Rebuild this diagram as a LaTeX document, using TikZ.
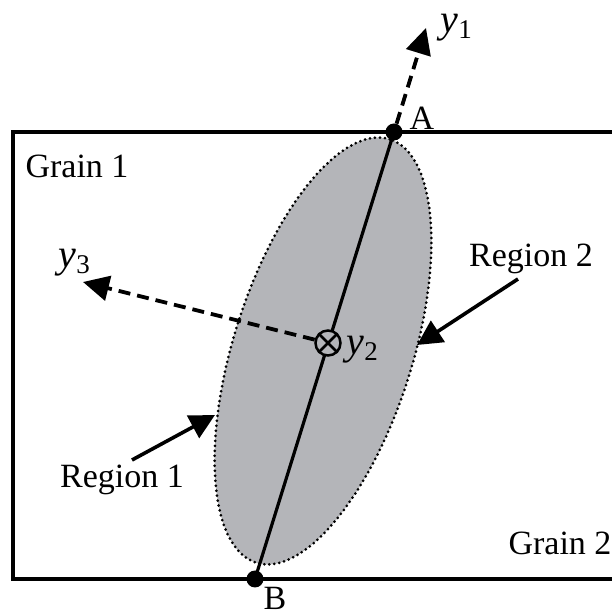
\documentclass[tikz,border=0pt]{standalone}
\usepackage{fontspec}
\setmainfont{Liberation Serif}
\usetikzlibrary{arrows.meta}
\definecolor{ellgray}{RGB}{180,181,185}
\newcommand\ysub[1]{{\fontsize{40}{42}\selectfont\textit{y}}\kern0.5pt\raisebox{-6pt}{\fontsize{27}{28}\selectfont #1}}
\begin{document}
\begin{tikzpicture}[x=1pt,y=1pt,
  lbl/.style={inner sep=0pt, font=\fontsize{34}{36}\selectfont},
  dotn/.style={circle, fill=black, inner sep=0pt, minimum size=17pt},
  dashline/.style={line width=3.8pt, dash pattern=on 12pt off 7pt},
  bigtip/.style={-{Triangle[length=26pt,width=25pt]}},
  solidarrow/.style={line width=3.6pt, -{Triangle[length=25pt,width=25pt]}}]
\useasboundingbox (0,0) rectangle (612,616);
% grain boundary box
\begin{scope}
\clip (0,0) rectangle (612,616);
\draw[line width=3.4pt] (650,484) -- (13,484) -- (13,37) -- (650,37);
\end{scope}
% ellipse
\path[fill=ellgray, rotate around={72.5:(323,265)}] (323,265) ellipse [x radius=222pt, y radius=89.5pt];
\draw[line width=3pt, line cap=round, dash pattern=on 0pt off 5pt, rotate around={72.5:(323,265)}] (323,265) ellipse [x radius=222pt, y radius=89.5pt];
% points
\coordinate (Apt) at (394,484);
\coordinate (Bpt) at (255,37);
\coordinate (T1) at (426,588);
\coordinate (T3) at (83,334);
\coordinate (R2s) at (518,337);
\coordinate (R2t) at (417,271);
\coordinate (R1s) at (132,156);
\coordinate (R1t) at (215,201);
% axis line
\draw[line width=3.2pt] (Apt) -- (Bpt);
\node[dotn] (A) at (Apt) {};
\node[dotn] (B) at (Bpt) {};
% otimes
\node[circle, draw, line width=2.5pt, fill=ellgray, minimum size=25pt, inner sep=0pt] (O) at (328,273) {};
\draw[line width=2.5pt] (O.north east) -- (O.south west);
\draw[line width=2.5pt] (O.north west) -- (O.south east);
% dashed axes
\draw[dashline, bigtip] (A) -- (T1);
\draw[dashline, bigtip] (O) -- (T3);
% region arrows
\draw[solidarrow] (R2s) -- (R2t);
\draw[solidarrow] (R1s) -- (R1t);
% labels
\node[lbl, anchor=base west] (ly1) at (440,583) {\ysub{1}};
\node[lbl, anchor=base west] (ly3) at (58,348) {\ysub{3}};
\node[lbl, anchor=base west] (ly2) at (346,261) {\ysub{2}};
\node[lbl] (lA) at (422,498) {A};
\node[lbl] (lB) at (275,18) {B};
\node[lbl] (g1) at (77,450) {Grain 1};
\node[lbl] (g2) at (560,73) {Grain 2};
\node[lbl] (r2) at (531,357) {Region 2};
\node[lbl] (r1) at (122,136) {Region 1};
\end{tikzpicture}
\end{document}
